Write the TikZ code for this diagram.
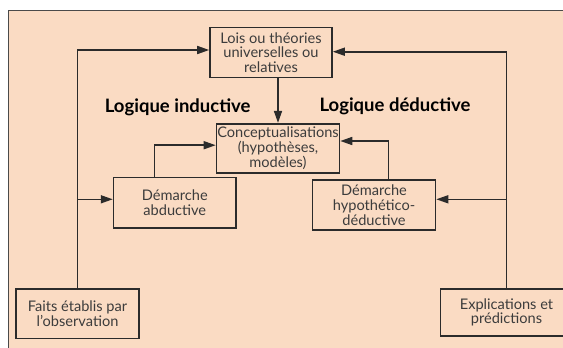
\documentclass[tikz,border=0pt]{standalone}
\usepackage{fontspec}
\setmainfont{Lato}
\usetikzlibrary{arrows.meta}
\definecolor{peach}{HTML}{FADBC3}
\definecolor{ink}{HTML}{2B2B2B}
\definecolor{txt}{HTML}{3C3C3C}
\definecolor{frame}{HTML}{4A4A4A}
\tikzset{
  box/.style={draw=ink, line width=1.6pt, fill=peach, text=txt, align=center,
    inner sep=0pt, font=\fontsize{14.6}{14.8}\selectfont},
  arr/.style={draw=ink, line width=1.6pt, -{Triangle[length=12pt,width=8pt]}},
  lbl/.style={font=\fontsize{18.5}{20}\selectfont\bfseries, text=black}
}
\begin{document}
\begin{tikzpicture}[x=1pt,y=-1pt]
\useasboundingbox (0,0) rectangle (563,348);
\clip (0,0) rectangle (563,348);
\fill[white] (0,0) rectangle (563,348);
\draw[frame, line width=1.6pt, fill=peach] (8.3,10.3) rectangle (600,400);

\node[box, minimum width=122pt, minimum height=50pt] (lois) at (271,52.5) {Lois ou théories\\universelles ou\\relatives};
\node[box, minimum width=123pt, minimum height=49pt] (concept) at (278,148.2) {Conceptualisations\\(hypothèses,\\modèles)};
\node[box, minimum width=122.5pt, minimum height=50.7pt] (abd) at (174.8,202.7) {Démarche\\abductive};
\node[box, minimum width=123pt, minimum height=50pt] (hd) at (374,205) {Démarche\\hypothético-\\déductive};
\node[box, minimum width=122.5pt, minimum height=49.6pt] (faits) at (77.5,313.5) {Faits établis par\\l'observation};
\node[box, minimum width=132pt, minimum height=46.7pt] (expl) at (506.5,312.4) {Explications et\\prédictions};

\node[lbl] (li) at (177.7,107.3) {Logique inductive};
\node[lbl] (ld) at (395,106.7) {Logique déductive};

\coordinate (bl) at (77.5,199.3);
\coordinate (br) at (506.5,199.3);

\draw[arr] (faits.north) |- ([yshift=2.5pt]lois.west);
\draw[arr] (bl) -- (bl -| abd.west);
\draw[arr] (expl.north) |- ([yshift=0.8pt]lois.east);
\draw[arr] (br) -- (br -| hd.east);
\draw[arr] (lois.south -| concept.north) -- (concept.north);
\draw[arr] ([xshift=-20.4pt]abd.north) |- ([yshift=3pt]concept.west);
\draw[arr] ([xshift=14.5pt]hd.north) |- ([yshift=7.2pt]concept.east);
\end{tikzpicture}
\end{document}
